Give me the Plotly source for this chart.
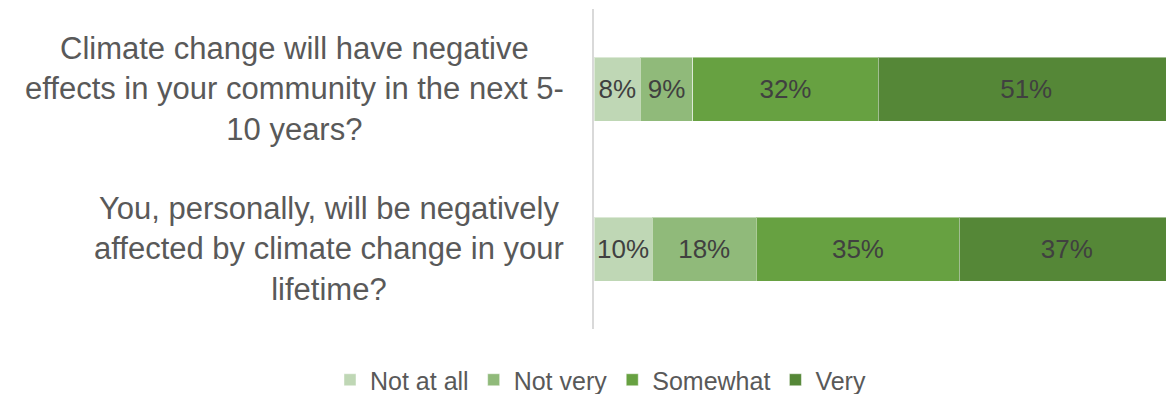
import plotly.graph_objects as go

# Survey statements (top to bottom) and response shares in percent
questions = [
    "Climate change will have negative<br>effects in your community in the next 5-<br>10 years?",
    "You, personally, will be negatively<br>affected by climate change in your<br>lifetime?",
]
responses = ["Not at all", "Not very", "Somewhat", "Very"]
not_at_all = [8, 10]
not_very = [9, 18]
somewhat = [32, 35]
very = [51, 37]

series = [not_at_all, not_very, somewhat, very]
colors = ["#BFD7B5", "#90BA7A", "#67A141", "#558737"]

FONT = "Liberation Sans, Arial, sans-serif"
W, H = 1166, 394
ML, MR, MT, MB = 594, 0, 9, 65
plot_w = W - ML - MR

fig = go.Figure()
for name, vals, col in zip(responses, series, colors):
    fig.add_trace(go.Bar(
        name=name,
        y=list(range(len(questions))),
        x=vals,
        orientation="h",
        marker=dict(color=col, line=dict(color="rgba(255,255,255,0.45)", width=1)),
        text=[f"{v}%" for v in vals],
        textposition="inside",
        insidetextanchor="middle",
        textangle=0,
        constraintext="none",
        textfont=dict(family=FONT, size=26, color="#404040"),
        cliponaxis=True,
    ))

# Category labels, centred line by line and right-aligned to the axis
for i, q in enumerate(questions):
    fig.add_annotation(
        xref="paper", yref="y",
        x=-28 / plot_w, y=i,
        text=q, showarrow=False,
        xanchor="right", yanchor="middle", align="center",
        font=dict(family=FONT, size=31, color="#595959"),
    )

fig.update_layout(
    width=W, height=H,
    margin=dict(l=ML, r=MR, t=MT, b=MB),
    barmode="stack",
    bargap=0.6,
    paper_bgcolor="white",
    plot_bgcolor="white",
    showlegend=True,
    legend=dict(
        orientation="h",
        xref="container", yref="container",
        x=0.515, xanchor="center",
        y=1 - 380 / H, yanchor="middle",
        font=dict(family=FONT, size=25, color="#595959"),
        traceorder="normal",
        itemclick=False,
    ),
    xaxis=dict(
        range=[0, 98.6],
        showgrid=False, zeroline=False,
        showticklabels=False, ticks="",
    ),
    yaxis=dict(
        range=[len(questions) - 0.5, -0.5],
        showgrid=False, zeroline=False,
        showticklabels=False, ticks="",
        showline=True, linecolor="#D9D9D9", linewidth=2,
    ),
)

fig.write_html("out.html")
